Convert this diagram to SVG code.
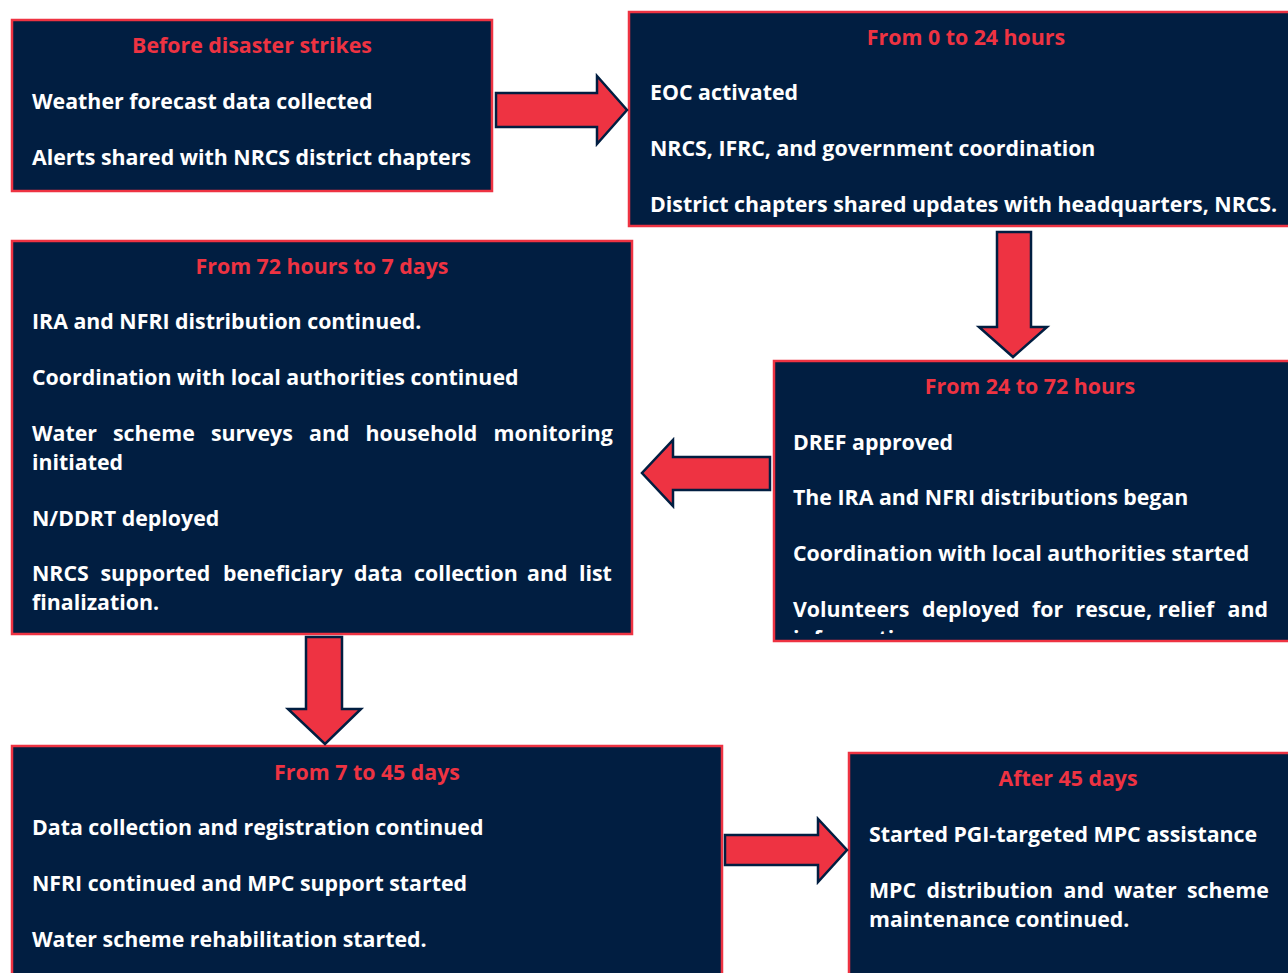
<svg xmlns="http://www.w3.org/2000/svg" width="1288" height="973" viewBox="0 0 1288 973">
<style>
.box{fill:#011E41;stroke:#EE3342;stroke-width:2.5}
.arrow{fill:#EE3342;stroke:#011E41;stroke-width:2.5;stroke-linejoin:miter}
.t{font-family:"Open Sans","Noto Sans",sans-serif;font-weight:700;font-size:21.33px;fill:#EE3342;text-anchor:middle}
.i{font-family:"Open Sans","Noto Sans",sans-serif;font-weight:700;font-size:21.33px;fill:#FFFFFF}
</style>
<defs>
<clipPath id="c4"><rect x="774" y="361" width="514" height="273"/></clipPath>
</defs>
<rect width="1288" height="973" fill="#FFFFFF"/>

<g id="node-before">
<rect class="box" x="12" y="20" width="480" height="171"/>
<text class="t" x="252" y="53">Before disaster strikes</text>
<text class="i" x="32" y="109">Weather forecast data collected</text>
<text class="i" x="32" y="165">Alerts shared with NRCS district chapters</text>
</g>

<g id="node-0-24">
<rect class="box" x="629" y="12" width="670" height="214"/>
<text class="t" x="966" y="45">From 0 to 24 hours</text>
<text class="i" x="650" y="100">EOC activated</text>
<text class="i" x="650" y="156">NRCS, IFRC, and government coordination</text>
<text class="i" x="650" y="212">District chapters shared updates with headquarters, NRCS.</text>
</g>

<g id="node-72h-7d">
<rect class="box" x="12" y="241" width="620" height="393"/>
<text class="t" x="322" y="274">From 72 hours to 7 days</text>
<text class="i" x="32" y="329">IRA and NFRI distribution continued.</text>
<text class="i" x="32" y="385">Coordination with local authorities continued</text>
<text class="i" y="441"><tspan x="32">Water</tspan><tspan x="113">scheme</tspan><tspan x="211">surveys</tspan><tspan x="309">and</tspan><tspan x="365.5">household</tspan><tspan x="493.5">monitoring</tspan></text>
<text class="i" x="32" y="470">initiated</text>
<text class="i" x="32" y="526">N/DDRT deployed</text>
<text class="i" y="581"><tspan x="32">NRCS</tspan><tspan x="100.5">supported</tspan><tspan x="223">beneficiary</tspan><tspan x="354">data</tspan><tspan x="414">collection</tspan><tspan x="527">and</tspan><tspan x="579">list</tspan></text>
<text class="i" x="32" y="610">finalization.</text>
</g>

<g id="node-24-72">
<rect class="box" x="774" y="361" width="525" height="280"/>
<text class="t" x="1030" y="394">From 24 to 72 hours</text>
<g clip-path="url(#c4)">
<text class="i" x="793" y="450">DREF approved</text>
<text class="i" x="793" y="505">The IRA and NFRI distributions began</text>
<text class="i" x="793" y="561">Coordination with local authorities started</text>
<text class="i" y="617"><tspan x="793">Volunteers</tspan><tspan x="922">deployed</tspan><tspan x="1032">for</tspan><tspan x="1075.5">rescue,</tspan><tspan x="1158">relief</tspan><tspan x="1227.5">and</tspan></text>
<text class="i" x="793" y="646">information.</text>
</g>
</g>

<g id="node-7-45">
<rect class="box" x="12" y="746" width="710" height="240"/>
<text class="t" x="367" y="780">From 7 to 45 days</text>
<text class="i" x="32" y="835">Data collection and registration continued</text>
<text class="i" x="32" y="891">NFRI continued and MPC support started</text>
<text class="i" x="32" y="947">Water scheme rehabilitation started.</text>
</g>

<g id="node-after-45">
<rect class="box" x="849" y="753" width="450" height="240"/>
<text class="t" x="1068" y="786">After 45 days</text>
<text class="i" x="869" y="842">Started PGI-targeted MPC assistance</text>
<text class="i" y="898"><tspan x="869">MPC</tspan><tspan x="926.5">distribution</tspan><tspan x="1063.5">and</tspan><tspan x="1114">water</tspan><tspan x="1187">scheme</tspan></text>
<text class="i" x="869" y="927">maintenance continued.</text>
</g>

<g id="connectors">
<polygon class="arrow" points="496,93 597,93 597,76 627,110 597,144 597,127 496,127"/>
<polygon class="arrow" points="997,232 1031,232 1031,327 1047,327 1013,357 979,327 997,327"/>
<polygon class="arrow" points="770,457 673,457 673,440 642,473 673,506 673,490 770,490"/>
<polygon class="arrow" points="306,637 342,637 342,709 361,709 325,744 288,709 306,709"/>
<polygon class="arrow" points="725,835 818,835 818,819 847,850 818,882 818,865 725,865"/>
</g>
</svg>
